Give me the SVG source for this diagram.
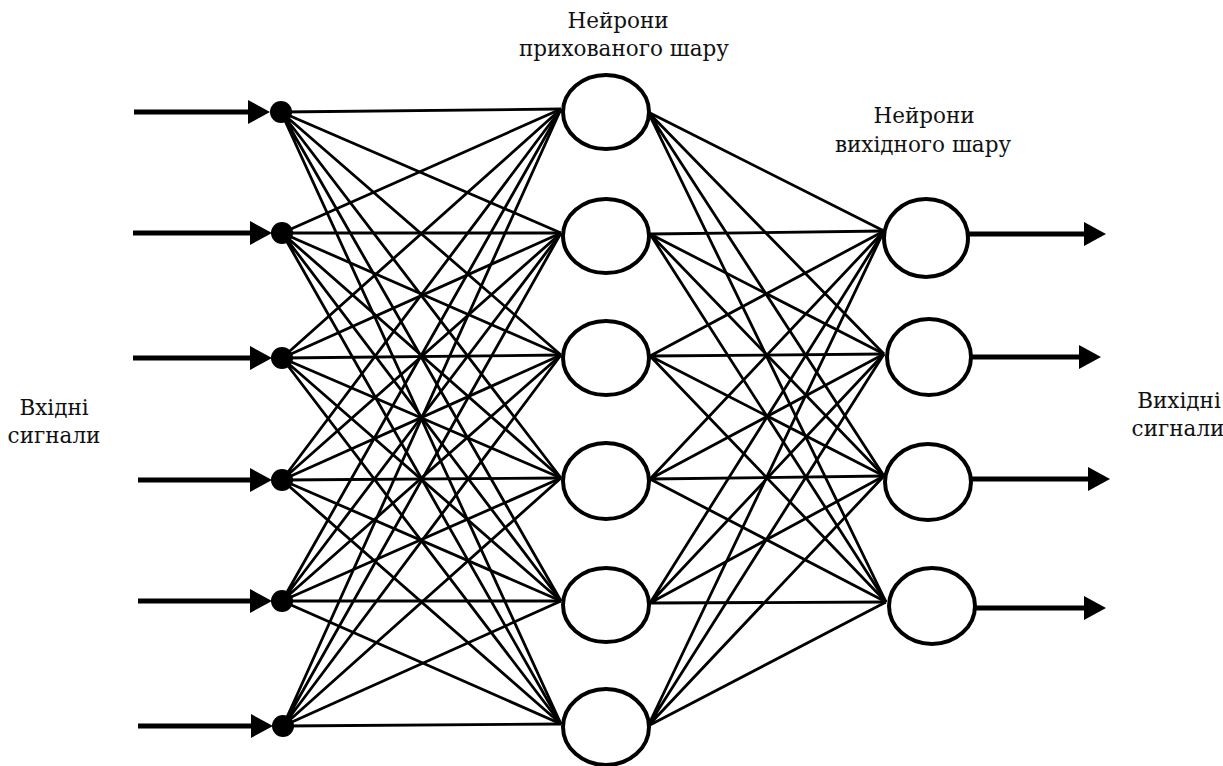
<svg xmlns="http://www.w3.org/2000/svg" width="1223" height="766" viewBox="0 0 1223 766">
<style>
.lbl{font-family:'DejaVu Serif','Liberation Serif',serif;font-size:21.5px;fill:#111;text-anchor:middle}
.io{stroke:#000;stroke-width:5;fill:none}
.cn{stroke:#000;stroke-width:2.8;fill:none}
.nr{stroke:#000;stroke-width:4;fill:#fff}
.dot{fill:#000}
</style>
<defs>
<marker id="ah" viewBox="0 0 22 24" refX="10" refY="12" markerWidth="22" markerHeight="24" markerUnits="userSpaceOnUse" orient="auto">
<path d="M0,0 L22,12 L0,24 Z" fill="#000"/>
</marker>
</defs>
<rect width="1223" height="766" fill="#fff"/>
<g id="connectors">
<g id="input-arrows">
<line class="io" x1="134" y1="112" x2="258" y2="112" marker-end="url(#ah)"/>
<line class="io" x1="133" y1="233" x2="260" y2="233" marker-end="url(#ah)"/>
<line class="io" x1="133" y1="358" x2="260" y2="358" marker-end="url(#ah)"/>
<line class="io" x1="138" y1="480" x2="260" y2="480" marker-end="url(#ah)"/>
<line class="io" x1="138" y1="601" x2="260" y2="601" marker-end="url(#ah)"/>
<line class="io" x1="138" y1="726" x2="261" y2="726" marker-end="url(#ah)"/>
</g>
<g id="input-hidden">
<path class="cn" d="M281,112L561,109M281,112L561,233M281,112L561,355M281,112L561,478M281,112L561,601M281,112L561,724"/>
<path class="cn" d="M282,233L561,109M282,233L561,233M282,233L561,355M282,233L561,478M282,233L561,601M282,233L561,724"/>
<path class="cn" d="M282,358L561,109M282,358L561,233M282,358L561,355M282,358L561,478M282,358L561,601M282,358L561,724"/>
<path class="cn" d="M282,480L561,109M282,480L561,233M282,480L561,355M282,480L561,478M282,480L561,601M282,480L561,724"/>
<path class="cn" d="M282,601L561,109M282,601L561,233M282,601L561,355M282,601L561,478M282,601L561,601M282,601L561,724"/>
<path class="cn" d="M283,726L561,109M283,726L561,233M283,726L561,355M283,726L561,478M283,726L561,601M283,726L561,724"/>
</g>
<g id="hidden-output">
<path class="cn" d="M648,112L884,231M648,112L884,354M648,112L884,476M648,112L886,602"/>
<path class="cn" d="M650,234L884,231M650,234L884,354M650,234L884,476M650,234L886,602"/>
<path class="cn" d="M650,356L884,231M650,356L884,354M650,356L884,476M650,356L886,602"/>
<path class="cn" d="M650,479L884,231M650,479L884,354M650,479L884,476M650,479L886,602"/>
<path class="cn" d="M650,603L884,231M650,603L884,354M650,603L884,476M650,603L886,602"/>
<path class="cn" d="M648,726L884,231M648,726L884,354M648,726L884,476M648,726L886,602"/>
</g>
<g id="output-arrows">
<line class="io" x1="969" y1="234" x2="1094" y2="234" marker-end="url(#ah)"/>
<line class="io" x1="972" y1="357" x2="1089" y2="357" marker-end="url(#ah)"/>
<line class="io" x1="971" y1="479" x2="1098" y2="479" marker-end="url(#ah)"/>
<line class="io" x1="976" y1="608" x2="1094" y2="608" marker-end="url(#ah)"/>
</g>
</g>
<g id="input-nodes">
<circle id="in1" class="dot" cx="281" cy="112" r="11"/>
<circle id="in2" class="dot" cx="282" cy="233" r="11"/>
<circle id="in3" class="dot" cx="282" cy="358" r="11"/>
<circle id="in4" class="dot" cx="282" cy="480" r="11"/>
<circle id="in5" class="dot" cx="282" cy="601" r="11"/>
<circle id="in6" class="dot" cx="283" cy="726" r="11"/>
</g>
<g id="hidden-nodes">
<g id="h1"><ellipse class="nr" cx="606" cy="112" rx="43" ry="37"/></g>
<g id="h2"><ellipse class="nr" cx="606" cy="236" rx="43" ry="37"/></g>
<g id="h3"><ellipse class="nr" cx="606" cy="358" rx="43" ry="37"/></g>
<g id="h4"><ellipse class="nr" cx="606" cy="481" rx="43" ry="38"/></g>
<g id="h5"><ellipse class="nr" cx="606" cy="605" rx="43" ry="37"/></g>
<g id="h6"><ellipse class="nr" cx="606" cy="727" rx="43" ry="38"/></g>
</g>
<g id="output-nodes">
<g id="o1"><ellipse class="nr" cx="926" cy="238" rx="42" ry="39"/></g>
<g id="o2"><ellipse class="nr" cx="929" cy="357" rx="42" ry="38"/></g>
<g id="o3"><ellipse class="nr" cx="928" cy="482" rx="43" ry="38"/></g>
<g id="o4"><ellipse class="nr" cx="932" cy="606" rx="43" ry="38"/></g>
</g>
<g id="labels">
<g id="lbl-input"><text class="lbl" x="54" y="415">Вхідні</text><text class="lbl" x="54" y="443">сигнали</text></g>
<g id="lbl-hidden"><text class="lbl" x="618" y="28">Нейрони</text><text class="lbl" x="624" y="56">прихованого шару</text></g>
<g id="lbl-output"><text class="lbl" x="924" y="123">Нейрони</text><text class="lbl" x="923" y="152">вихідного шару</text></g>
<g id="lbl-outsig"><text class="lbl" x="1179" y="408">Вихідні</text><text class="lbl" x="1178" y="436">сигнали</text></g>
</g>
</svg>
